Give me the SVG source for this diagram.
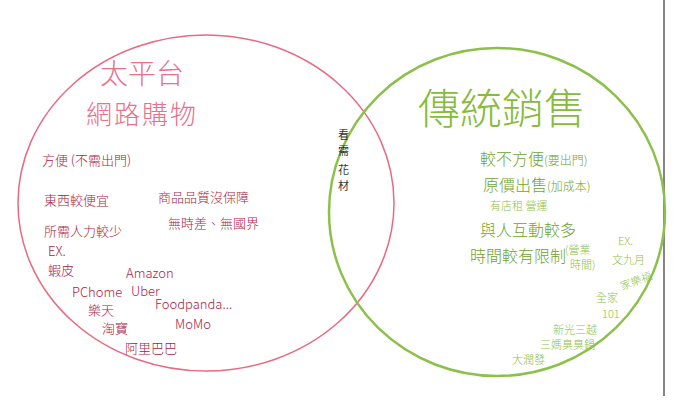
<svg xmlns="http://www.w3.org/2000/svg" width="673" height="403" viewBox="0 0 673 403">
<style>
.t{font-family:"Noto Sans CJK TC","Noto Sans CJK SC",sans-serif;}
.rt{fill:#e8728c;font-weight:300;}
.r{fill:#a8233f;font-size:13px;font-weight:300;}
.gt{fill:#86bb3c;font-weight:300;}
.g{fill:#6ea42c;font-size:16px;font-weight:300;}
.gs{fill:#8cc04a;font-size:11px;font-weight:300;}
.m{fill:#333;font-size:11px;}
</style>
<rect width="673" height="403" fill="#fff"/>
<g id="connectors">
<line x1="664" y1="0" x2="664" y2="396" stroke="#333" stroke-width="1.2"/>
</g>
<g id="online">
<ellipse cx="206" cy="203" rx="188" ry="168" fill="none" stroke="#e86a80" stroke-width="1.5"/>
<text class="t rt" x="100" y="84" font-size="28">太平台</text>
<text class="t rt" x="86" y="124" font-size="26" letter-spacing="2">網路購物</text>
<text class="t r" x="42" y="165">方便 (不需出門)</text>
<text class="t r" x="44" y="205">東西較便宜</text>
<text class="t r" x="158" y="202">商品品質沒保障</text>
<text class="t r" x="44" y="236">所需人力較少</text>
<text class="t r" x="168" y="228">無時差、無國界</text>
<text class="t r" x="48" y="256" font-size="11">EX.</text>
<text class="t r" x="48" y="275">蝦皮</text>
<text class="t r" x="126" y="278" font-size="12">Amazon</text>
<text class="t r" x="72" y="297" font-size="12">PChome</text>
<text class="t r" x="131" y="296" font-size="12">Uber</text>
<text class="t r" x="88" y="315">樂天</text>
<text class="t r" x="155" y="309" font-size="11">Foodpanda...</text>
<text class="t r" x="102" y="333">淘寶</text>
<text class="t r" x="175" y="329" font-size="12">MoMo</text>
<text class="t r" x="125" y="353">阿里巴巴</text>
</g>
<g id="traditional">
<ellipse cx="497" cy="212" rx="168" ry="164" fill="none" stroke="#8cc04a" stroke-width="2.5"/>
<text class="t gt" x="418" y="124" font-size="42">傳統銷售</text>
<text class="t g" x="480" y="165">較不方便<tspan font-size="12">(要出門)</tspan></text>
<text class="t g" x="483" y="191">原價出售<tspan font-size="12">(加成本)</tspan></text>
<text class="t gs" x="490" y="210">有店租 營運</text>
<text class="t g" x="480" y="236">與人互動較多</text>
<text class="t g" x="470" y="262" font-size="15">時間較有限制</text>
<text class="t gs" x="565" y="254" font-size="10">(營業</text>
<text class="t gs" x="570" y="269" font-size="10">時間)</text>
<text class="t gs" x="618" y="245">EX.</text>
<text class="t gs" x="612" y="264">文九月</text>
<text class="t gs" x="620" y="287" transform="rotate(-20 630 283)">家樂福</text>
<text class="t gs" x="596" y="302">全家</text>
<text class="t gs" x="602" y="318">101</text>
<text class="t gs" x="553" y="334" font-size="12">新光三越</text>
<text class="t gs" x="540" y="349" font-size="10">三媽臭臭鍋</text>
<text class="t gs" x="512" y="364" font-size="10">大潤發</text>
</g>
<g id="middle">
<text class="t m" x="338" y="139">看</text>
<text class="t m" x="338" y="155">需</text>
<text class="t m" x="338" y="174">花</text>
<text class="t m" x="338" y="190">材</text>
</g>
</svg>
